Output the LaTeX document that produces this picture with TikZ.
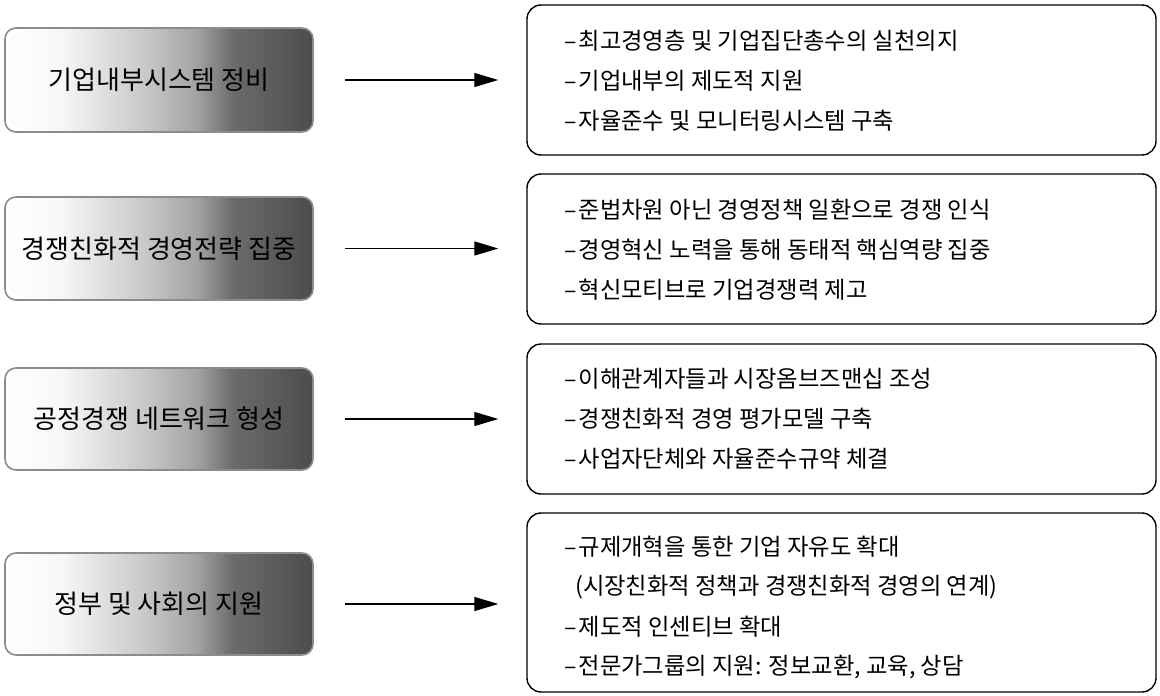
\documentclass[tikz,border=0pt]{standalone}
\usepackage{fontspec}
\setmainfont{Noto Sans CJK KR}
\usetikzlibrary{arrows.meta}
\pgfdeclarehorizontalshading{halftone}{100bp}{color(0bp)=(white); color(25bp)=(white); color(34bp)=(black!3); color(48bp)=(black!22); color(56bp)=(black!36); color(62bp)=(black!58); color(75bp)=(black!70); color(100bp)=(black!70)}
\begin{document}
\begin{tikzpicture}[x=1pt,y=-1pt,
  lbox/.style={rectangle, rounded corners=11pt, minimum width=308pt, shade, shading=halftone, draw=black!45, line width=1.6pt, font=\fontsize{26}{30}\selectfont, inner sep=0pt},
  rbox/.style={rectangle, rounded corners=14pt, minimum width=629pt, draw=black, line width=1.4pt, inner sep=0pt},
  item/.style={anchor=west, inner sep=0pt, font=\fontsize{23.3}{27}\selectfont},
  arr/.style={-{Triangle[length=24pt,width=14pt]}, line width=1.3pt, shorten <=31pt, shorten >=28pt}]
\useasboundingbox (0,0) rectangle (1160,696);

% left boxes
\node[lbox, minimum height=104pt] (L1) at (159,80) {기업내부시스템 정비};
\node[lbox, minimum height=103pt] (L2) at (159,248.5) {경쟁친화적 경영전략 집중};
\node[lbox, minimum height=102pt] (L3) at (159,419) {공정경쟁 네트워크 형성};
\node[lbox, minimum height=102pt] (L4) at (159,604) {정부 및 사회의 지원};

% right boxes
\node[rbox, minimum height=150pt] (R1) at (841.5,80) {};
\node[rbox, minimum height=150pt] (R2) at (841.5,249) {};
\node[rbox, minimum height=150pt] (R3) at (841.5,419) {};
\node[rbox, minimum height=179pt] (R4) at (841.5,602.5) {};

% arrows
\draw[arr] (L1.east) -- (L1.east -| R1.west);
\draw[arr] (L2.east) -- (L2.east -| R2.west);
\draw[arr] (L3.east) -- (L3.east -| R3.west);
\draw[arr] (L4.east) -- (L4.east -| R4.west);

% box 1 items
\node[item] (a1) at (564,41) {–\kern2pt 최고경영층 및 기업집단총수의 실천의지};
\node[item] (a2) at (564,81) {–\kern2pt 기업내부의 제도적 지원};
\node[item] (a3) at (564,121) {–\kern2pt 자율준수 및 모니터링시스템 구축};
% box 2 items
\node[item] (b1) at (564,210) {–\kern2pt 준법차원 아닌 경영정책 일환으로 경쟁 인식};
\node[item] (b2) at (564,250) {–\kern2pt 경영혁신 노력을 통해 동태적 핵심역량 집중};
\node[item] (b3) at (564,290) {–\kern2pt 혁신모티브로 기업경쟁력 제고};
% box 3 items
\node[item] (c1) at (564,379) {–\kern2pt 이해관계자들과 시장옴브즈맨십 조성};
\node[item] (c2) at (564,419) {–\kern2pt 경쟁친화적 경영 평가모델 구축};
\node[item] (c3) at (564,459) {–\kern2pt 사업자단체와 자율준수규약 체결};
% box 4 items
\node[item] (d1) at (564,547) {–\kern2pt 규제개혁을 통한 기업 자유도 확대};
\node[item] (d2) at (575,587) {(시장친화적 정책과 경쟁친화적 경영의 연계)};
\node[item] (d3) at (564,627) {–\kern2pt 제도적 인센티브 확대};
\node[item] (d4) at (564,667) {–\kern2pt 전문가그룹의 지원: 정보교환, 교육, 상담};
\end{tikzpicture}
\end{document}
